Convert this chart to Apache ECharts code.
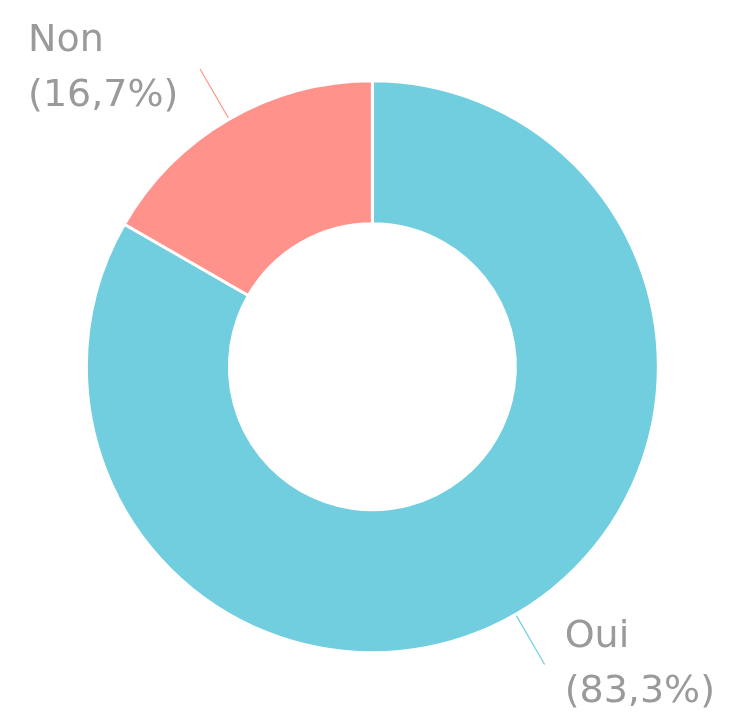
<!DOCTYPE html>
<html>
<head>
<meta charset="utf-8">
<script src="https://cdn.jsdelivr.net/npm/echarts@6/dist/echarts.min.js"></script>
<style>
	html, body { margin: 0; padding: 0; background: #fff; }
	#main { width: 733px; height: 715px; }
</style>
</head>
<body>
<div id="main"></div>
<script>
	// valeurs
	var categories = ['Oui', 'Non'];
	var values = [83.3, 16.7];
	var colors = ['#70cede', '#ff938b'];

	var chart = echarts.init(document.getElementById('main'));
	var pieData = [];
	for (var i = 0; i < categories.length; i++) {
		pieData.push({ name: categories[i], value: values[i], itemStyle: { color: colors[i] } });
	}
	var option = {
		animation: false,
		series: [
			{
				type: 'pie',
				center: ['50.8%', '51.3%'],
				radius: ['40%', '80%'],
				startAngle: 90,
				clockwise: true,
				itemStyle: { borderColor: '#fff', borderWidth: 3 },
				label: {
					color: '#9a9a9a',
					fontFamily: 'DejaVu Sans',
					fontSize: 38,
					lineHeight: 55,
					distanceToLabelLine: 20,
					formatter: function (p) {
						return '{t|' + p.name + '}\n{t|(' + p.percent.toFixed(1).replace('.', ',') + '%)}';
					},
					rich: {
						t: {
							color: '#9a9a9a',
							fontFamily: 'DejaVu Sans',
							fontSize: 38,
							lineHeight: 55,
							width: 152,
							align: 'left'
						}
					}
				},
				labelLine: { length: 58, length2: 0, lineStyle: { width: 1.2 } },
				data: pieData
			}
		]
	};
	chart.setOption(option);
</script>
</body>
</html>
